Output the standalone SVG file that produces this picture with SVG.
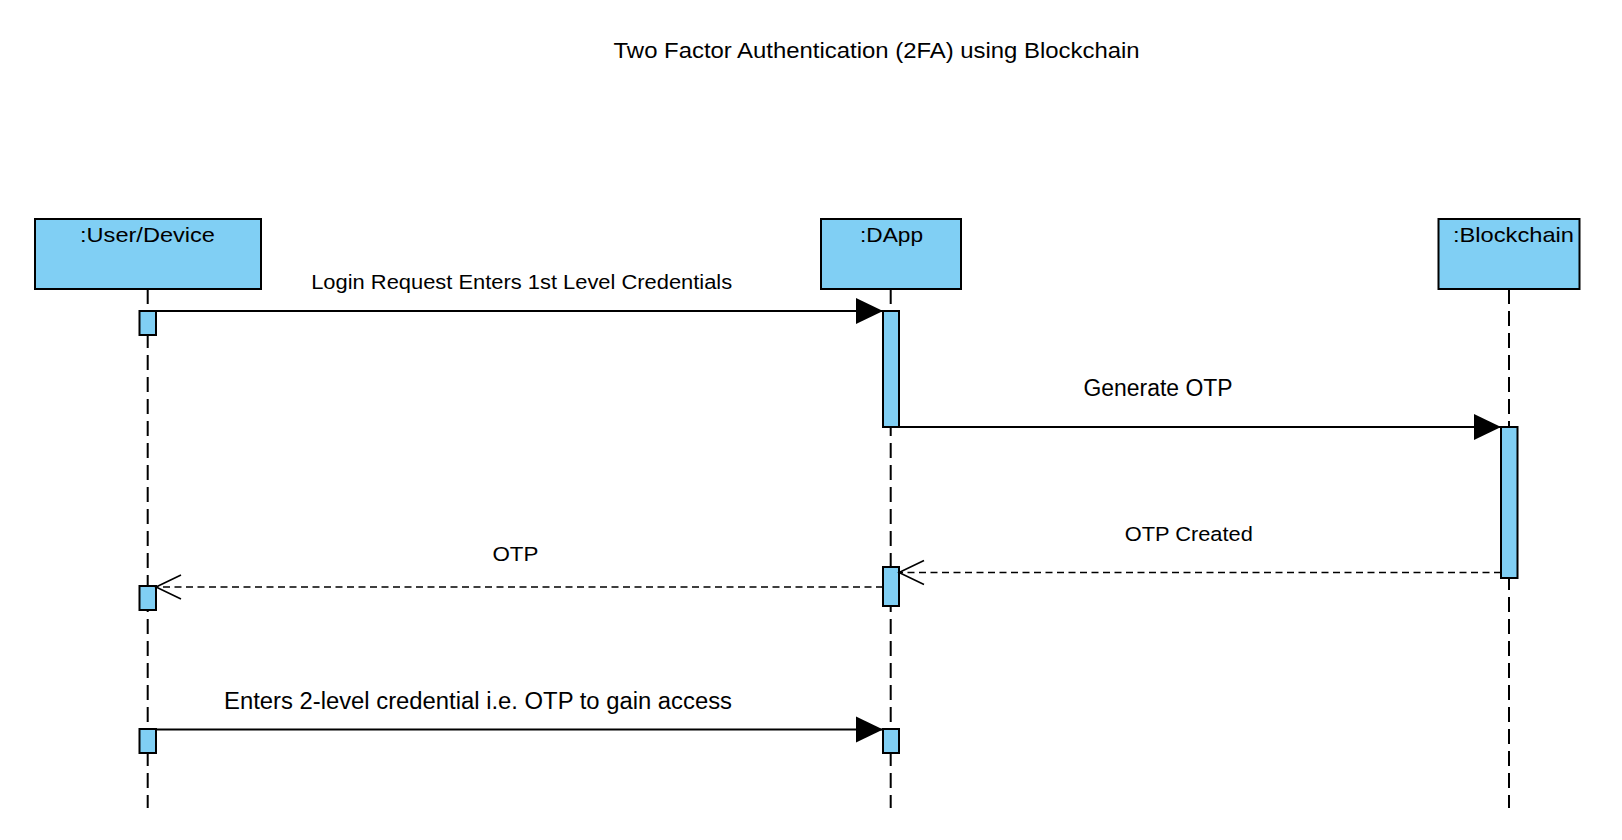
<svg xmlns="http://www.w3.org/2000/svg" width="1622" height="840" viewBox="0 0 1622 840">
<style>
text{font-family:"Liberation Sans",Arial,Helvetica,sans-serif;fill:#000;text-anchor:middle}
.head{fill:#80CFF4;stroke:#000;stroke-width:2}
.act{fill:#80CFF4;stroke:#000;stroke-width:2}
.life{stroke:#000;stroke-width:2;stroke-dasharray:15 7;fill:none}
.msg{stroke:#000;stroke-width:2;fill:none}
.ret{stroke:#000;stroke-width:1.6;fill:none;stroke-dasharray:7 4.5}
</style>
<defs>
<marker id="filled" markerUnits="userSpaceOnUse" markerWidth="30" markerHeight="30" refX="27" refY="13" orient="auto" overflow="visible">
<path d="M0,0 L27,13 L0,26 Z" fill="#000"/>
</marker>
<marker id="open" markerUnits="userSpaceOnUse" markerWidth="30" markerHeight="30" refX="25" refY="12" orient="auto" overflow="visible">
<path d="M0,0 L25,12 L0,24" fill="none" stroke="#000" stroke-width="1.6"/>
</marker>
</defs>
<rect width="1622" height="840" fill="#fff"/>
<text x="876.6" y="57.5" font-size="22.5" textLength="526" lengthAdjust="spacingAndGlyphs">Two Factor Authentication (2FA) using Blockchain</text>

<g id="lifelines">
<line class="life" x1="147.7" y1="289" x2="147.7" y2="808"/>
<line class="life" x1="890.7" y1="289" x2="890.7" y2="808"/>
<line class="life" x1="1509" y1="289" x2="1509" y2="808"/>
</g>

<g id="user">
<rect class="head" x="35" y="219" width="226" height="70"/>
<text x="147.5" y="241.7" font-size="20.5" textLength="135" lengthAdjust="spacingAndGlyphs">:User/Device</text>
<rect class="act" x="139.5" y="311" width="16.5" height="24"/>
<rect class="act" x="139.5" y="586" width="16.5" height="24"/>
<rect class="act" x="139.5" y="729" width="16.5" height="24"/>
</g>

<g id="dapp">
<rect class="head" x="821" y="219" width="140" height="70"/>
<text x="891.5" y="242" font-size="21" textLength="63" lengthAdjust="spacingAndGlyphs">:DApp</text>
<rect class="act" x="883" y="311" width="16" height="116"/>
<rect class="act" x="883" y="567" width="16" height="39"/>
<rect class="act" x="883" y="729" width="16" height="24"/>
</g>

<g id="blockchain">
<rect class="head" x="1438.5" y="219" width="141" height="70"/>
<text x="1513.5" y="242.3" font-size="21" textLength="121" lengthAdjust="spacingAndGlyphs">:Blockchain</text>
<rect class="act" x="1501" y="427" width="16.5" height="151"/>
</g>

<g id="connectors">
<line class="msg" x1="156" y1="311" x2="883" y2="311" marker-end="url(#filled)"/>
<text x="521.7" y="288.5" font-size="20" textLength="421" lengthAdjust="spacingAndGlyphs">Login Request Enters 1st Level Credentials</text>

<line class="msg" x1="899" y1="427" x2="1501" y2="427" marker-end="url(#filled)"/>
<text x="1158" y="396" font-size="23" textLength="149" lengthAdjust="spacingAndGlyphs">Generate OTP</text>

<line class="ret" x1="1501" y1="572.5" x2="899" y2="572.5" marker-end="url(#open)"/>
<text x="1188.8" y="540.7" font-size="20.5" textLength="128" lengthAdjust="spacingAndGlyphs">OTP Created</text>

<line class="ret" x1="883" y1="587" x2="156" y2="587" marker-end="url(#open)"/>
<text x="515.4" y="560.7" font-size="20.5" textLength="46" lengthAdjust="spacingAndGlyphs">OTP</text>

<line class="msg" x1="156" y1="729.5" x2="883" y2="729.5" marker-end="url(#filled)"/>
<text x="478" y="709" font-size="23.5" textLength="508" lengthAdjust="spacingAndGlyphs">Enters 2-level credential i.e. OTP to gain access</text>
</g>
</svg>
